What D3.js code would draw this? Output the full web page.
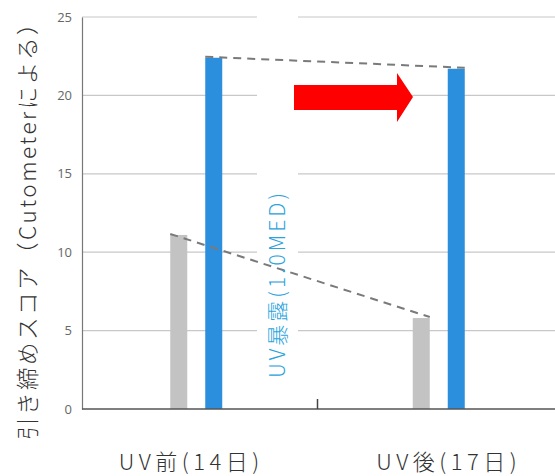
<!DOCTYPE html>
<html><head><meta charset="utf-8">
<script src="https://cdn.jsdelivr.net/npm/d3@7"></script>
<style>body{margin:0;background:#fff}svg{display:block}</style>
</head><body>
<script>
const categories = ["UV前(14日)", "UV後(17日)"];
const series = ["control", "uv"];
const controlValues = [11.1, 5.8];
const uvValues = [22.4, 21.7];
const yTicks = [0, 5, 10, 15, 20, 25];
const yTitle = "引き締めスコア（Cutometerによる）";
const annotation = "UV暴露(1.0MED)";

const W = 555, H = 476;
const svg = d3.select("body").append("svg").attr("width", W).attr("height", H);

const y = d3.scaleLinear().domain([0, 25]).range([409, 17]);
const x = d3.scaleBand().domain(categories).range([75, 560]);
const x1 = d3.scaleBand().domain(series).range([-26, 26]).paddingInner(0.514);
const colors = {control: "#c3c3c3", uv: "#2b8fdd"};
const data = categories.map((c, i) => ({cat: c, control: controlValues[i], uv: uvValues[i]}));

// gridlines
svg.append("g").selectAll("line").data(yTicks.filter(t => t > 0)).join("line")
  .attr("x1", 82).attr("x2", W).attr("y1", d => y(d)).attr("y2", d => y(d))
  .attr("stroke", "#c8c8c8").attr("stroke-width", 1.2);

// white band behind annotation
svg.append("rect").attr("x", 257).attr("y", 5).attr("width", 41).attr("height", 395).attr("fill", "#fff");

// y axis
const yAxis = svg.append("g").attr("transform", "translate(82,0)")
  .call(d3.axisLeft(y).tickValues(yTicks).tickSize(0).tickPadding(10));
yAxis.select(".domain").attr("stroke", "#777").attr("stroke-width", 1.2);
yAxis.selectAll("text").attr("fill", "#666").style("font-family", "'Open Sans', sans-serif").style("font-size", "13px");

// bars
const g = svg.append("g");
data.forEach(d => {
  series.forEach(s => {
    g.append("rect")
      .attr("x", x(d.cat) + x.bandwidth() / 2 + x1(s))
      .attr("y", y(d[s]))
      .attr("width", x1.bandwidth())
      .attr("height", y(0) - y(d[s]))
      .attr("fill", colors[s]);
  });
});

// x axis line + middle tick
svg.append("line").attr("x1", 82).attr("x2", W).attr("y1", y(0)).attr("y2", y(0))
  .attr("stroke", "#555").attr("stroke-width", 1.5);
svg.append("line").attr("x1", x(categories[1])).attr("x2", x(categories[1]))
  .attr("y1", y(0) - 10).attr("y2", y(0)).attr("stroke", "#444").attr("stroke-width", 1.5);

// dashed connecting lines
series.forEach(s => {
  const a = data[0], b = data[1];
  svg.append("line")
    .attr("x1", x(a.cat) + x.bandwidth() / 2 + x1(s))
    .attr("y1", y(a[s]) - 1)
    .attr("x2", x(b.cat) + x.bandwidth() / 2 + x1(s) + x1.bandwidth())
    .attr("y2", y(b[s]) - 1)
    .attr("stroke", "#7a7a7a").attr("stroke-width", 2)
    .attr("stroke-dasharray", "8,6");
});

// red arrow
svg.append("path")
  .attr("d", "M294,85 L397,85 L397,73 L413,97 L397,122 L397,110 L294,110 Z")
  .attr("fill", "#ff0000");

// annotation
svg.append("text").attr("transform", "translate(285,284) rotate(-90)")
  .attr("text-anchor", "middle")
  .attr("fill", "#2ba3dc")
  .style("font-family", "'Noto Sans CJK JP', sans-serif").style("font-size", "21px").style("font-weight", 300)
  .style("letter-spacing", "3px")
  .text(annotation);

// y title
svg.append("text").attr("transform", "translate(36,225) rotate(-90)")
  .attr("text-anchor", "middle")
  .attr("fill", "#333")
  .style("font-family", "'Noto Sans CJK JP', sans-serif").style("font-size", "22.5px").style("font-weight", 300)
  .style("letter-spacing", "2.5px")
  .text(yTitle);

// category labels
svg.append("g").selectAll("text").data(categories).join("text")
  .attr("x", (d, i) => x(d) + x.bandwidth() / 2 + (i === 0 ? -5 : 10))
  .attr("y", 470)
  .attr("text-anchor", "middle")
  .attr("fill", "#333")
  .style("font-family", "'Noto Sans CJK JP', sans-serif").style("font-size", "22px").style("font-weight", 300)
  .style("letter-spacing", "4.5px")
  .text(d => d);
</script>
</body></html>
